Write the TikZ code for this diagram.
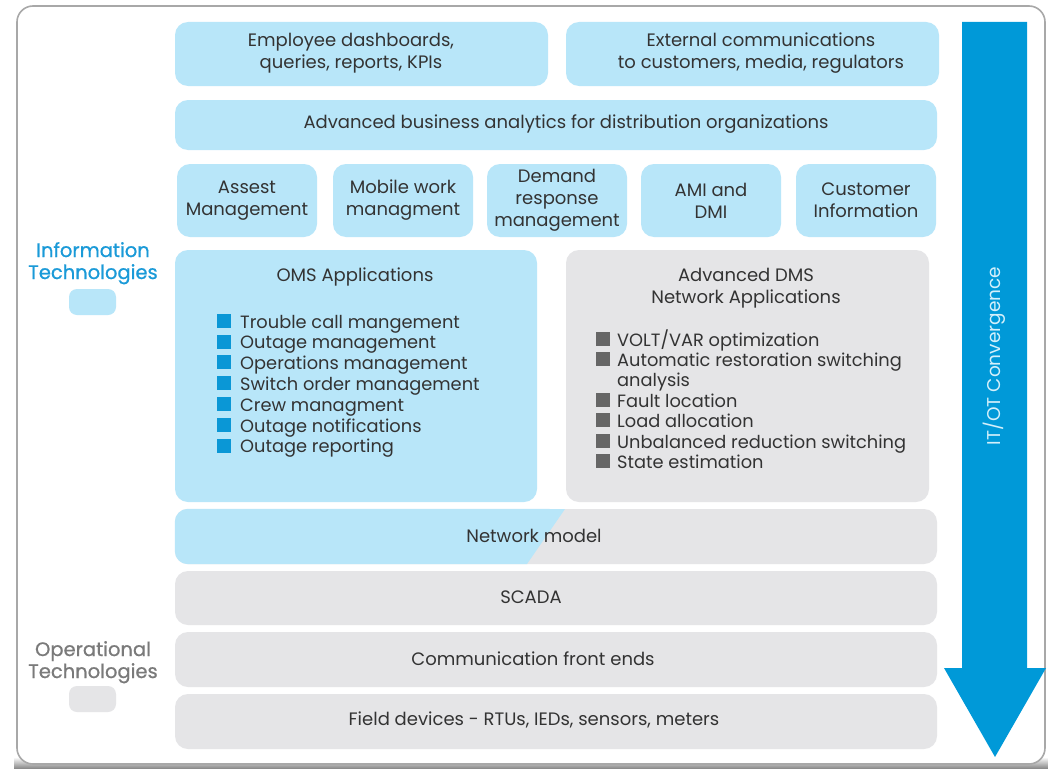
\documentclass[tikz,border=0pt]{standalone}
\usepackage{fontspec}
\setmainfont{Poppins}
\newfontfamily\labelfont{Poppins}[FakeBold=0.8]
\definecolor{itblue}{HTML}{B8E6F9}
\definecolor{otgray}{HTML}{E5E5E7}
\definecolor{txtgray}{HTML}{333333}
\definecolor{bulletblue}{HTML}{0A97D6}
\definecolor{bulletgray}{HTML}{666666}
\definecolor{arrowblue}{HTML}{0099D8}
\definecolor{labelblue}{HTML}{1A9AD8}
\definecolor{labelgray}{HTML}{7A7A7A}
\definecolor{framegray}{HTML}{A8A8A8}
\tikzset{
  itbox/.style={fill=itblue, rounded corners=13},
  otbox/.style={fill=otgray, rounded corners=13},
  omsdot/.style={fill=bulletblue, minimum size=14, anchor=south west},
  dmsdot/.style={fill=bulletgray, minimum size=14, anchor=south west},
  item/.style={anchor=base west, font=\fontsize{17.8}{20}\selectfont},
  sidelabel/.style={anchor=base, font=\labelfont\fontsize{19.5}{22}\selectfont}
}
\begin{document}
\begin{tikzpicture}[x=1pt, y=-1pt]
		\tikzstyle{every node}=[inner sep=0pt, align=center, text=txtgray, font=\fontsize{18}{22}\selectfont]
		\useasboundingbox (0,0) rectangle (1048,768);
		% outer frame with shadow at the foot
		\shade[top color=white, bottom color=black!45] (14,757) rectangle (1048,768);
		\fill[white, rounded corners=16] (17,6) rectangle (1045,764);
		\draw[framegray, line width=1.6, rounded corners=16] (17,6) rectangle (1045,764);
		% top rows
		\node[itbox, minimum width=373, minimum height=64] (dash) at (361.5,54) {};
		\node (dashtext) at (351,53) {Employee dashboards,\\queries, reports, KPIs};
		\node[itbox, minimum width=373, minimum height=64] (ext) at (752.5,54) {};
		\node (exttext) at (761,53) {External communications\\to customers, media, regulators};
		\node[itbox, minimum width=762, minimum height=50] (bi) at (556,125) {};
		\node (bitext) at (566,124) {Advanced business analytics for distribution organizations};
		\node[itbox, minimum width=140, minimum height=73] (asset) at (247,200.5) {Assest\\Management};
		\node[itbox, minimum width=140, minimum height=73] (mobile) at (403,200.5) {Mobile work\\managment};
		\node[itbox, minimum width=140, minimum height=73] (demand) at (557,200.5) {Demand\\response\\management};
		\node[itbox, minimum width=140, minimum height=73] (ami) at (711,200.5) {AMI and\\DMI};
		\node[itbox, minimum width=140, minimum height=73] (cust) at (866,200.5) {Customer\\Information};
		% application panels
		\node[itbox, minimum width=362, minimum height=252] (oms) at (356,376) {};
		\node[otbox, minimum width=363, minimum height=252] (dms) at (747.5,376) {};
		\node[anchor=base] (omstitle) at (355,281) {OMS Applications};
		\node[anchor=base] (dmstitle) at (746,281) {Advanced DMS};
		\node[anchor=base] (dmstitle2) at (746,303) {Network Applications};
		\foreach \txt [count=\i from 0] in {Trouble call mangement, Outage management, Operations management, Switch order management, Crew managment, Outage notifications, Outage reporting} {
			\node[omsdot] (ob\i) at (217,328+20.8*\i) {};
			\node[item] (ot\i) at (240,328+20.8*\i) {\txt};
		}
		\foreach \yy/\txt [count=\i] in {346/{VOLT/VAR optimization}, 366.4/Automatic restoration switching, 407.2/Fault location, 427.6/Load allocation, 448/Unbalanced reduction switching, 468.4/State estimation} {
			\node[dmsdot] (db\i) at (596,\yy) {};
			\node[item] (dt\i) at (617,\yy) {\txt};
		}
		\node[item] (dt2b) at (617,386.8) {analysis};
		% network model, half IT half OT
		\node[otbox, minimum width=762, minimum height=55] (net) at (556,536.5) {};
		\begin{scope}
			\clip[rounded corners=13] (net.north west) rectangle (net.south east);
			\fill[itblue] (net.north west) -- (565,509) -- (527,564) -- (net.south west) -- cycle;
		\end{scope}
		\node (nettext) at (534,536) {Network model};
		% OT rows
		\node[otbox, minimum width=762, minimum height=54] (scada) at (556,598) {};
		\node (scadatext) at (531,597) {SCADA};
		\node[otbox, minimum width=762, minimum height=55] (fe) at (556,659.5) {};
		\node (fetext) at (533,659) {Communication front ends};
		\node[otbox, minimum width=762, minimum height=55] (field) at (556,721.5) {};
		\node (fieldtext) at (534,720) {Field devices - RTUs, IEDs, sensors, meters};
		% left labels
		\node[sidelabel, text=labelblue] (itlab) at (93,257) {Information};
		\node[sidelabel, text=labelblue] (itlab2) at (93,279) {Technologies};
		\node[fill=itblue, rounded corners=8, minimum width=47, minimum height=26] (itkey) at (92.5,302) {};
		\node[sidelabel, text=labelgray] (otlab) at (93,656) {Operational};
		\node[sidelabel, text=labelgray] (otlab2) at (93,678) {Technologies};
		\node[fill=otgray, rounded corners=8, minimum width=47, minimum height=26] (otkey) at (92.5,699) {};
		% convergence arrow
		\fill[arrowblue] (962,22) -- (1027,22) -- (1027,668) -- (1046,668) -- (995,757) -- (944,668) -- (962,668) -- cycle;
		\node[rotate=90, text=itblue!60!white, font=\fontsize{18.5}{20}\selectfont] (conv) at (994.5,356) {IT/OT Convergence};
\end{tikzpicture}
\end{document}
